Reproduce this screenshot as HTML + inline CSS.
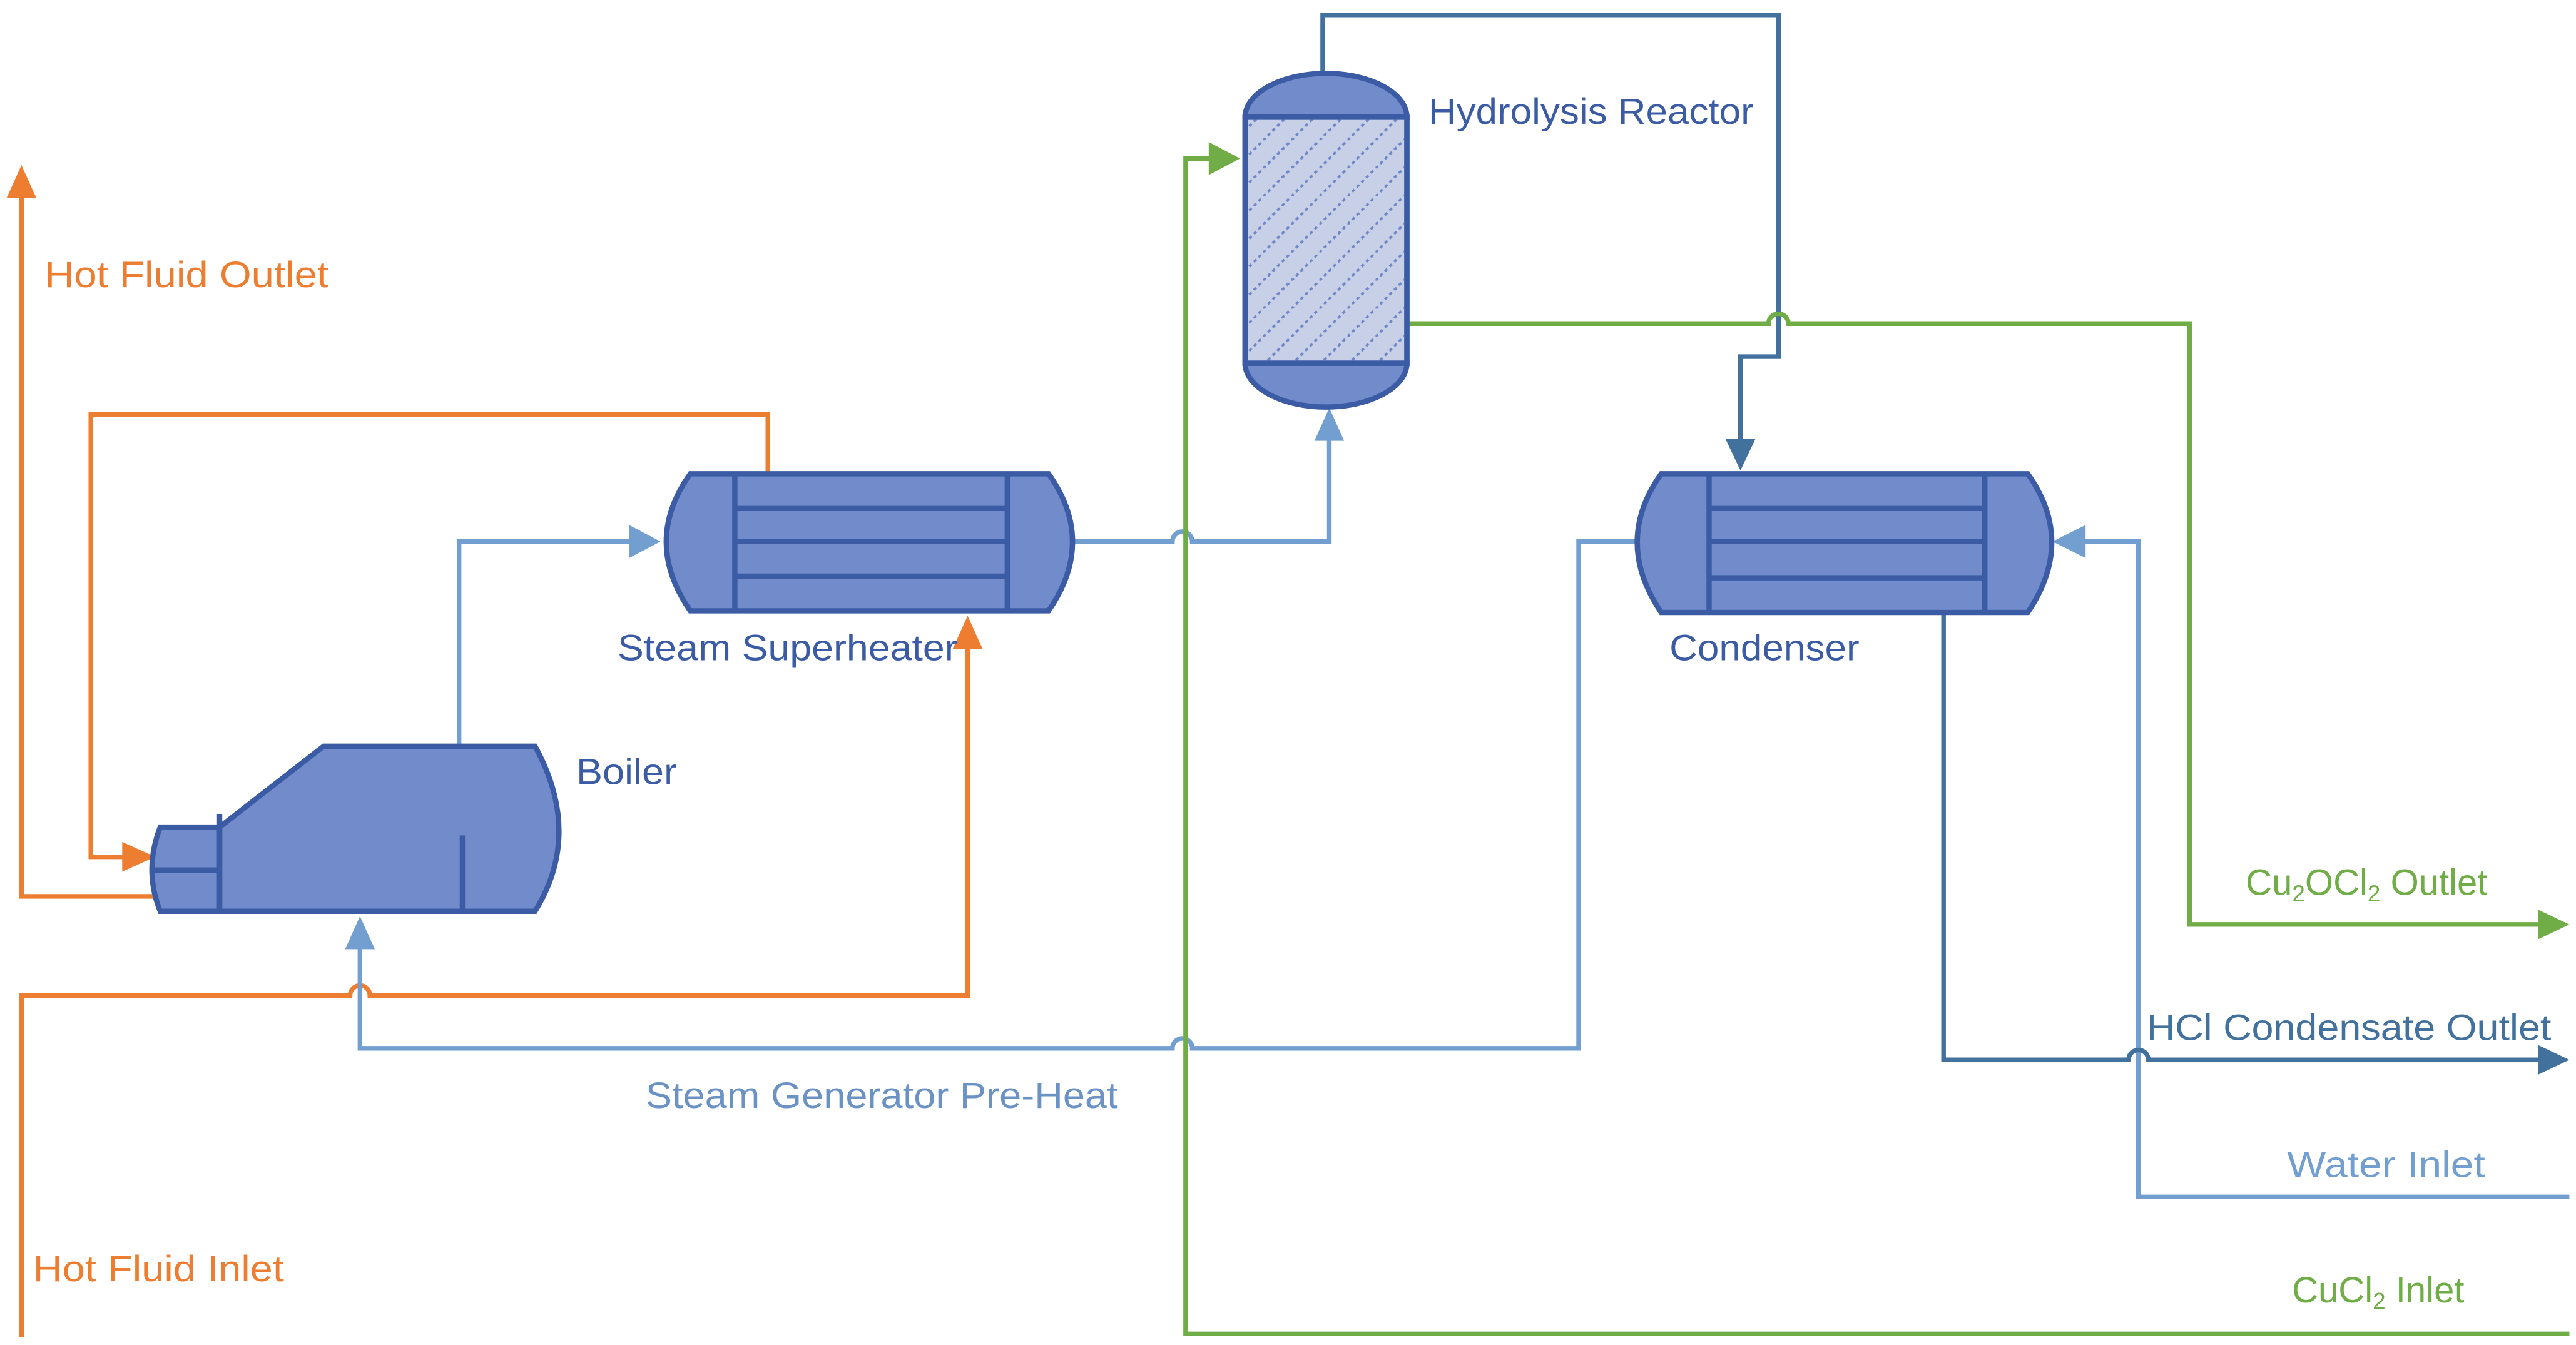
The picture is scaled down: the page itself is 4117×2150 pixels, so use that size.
<!DOCTYPE html>
<html><head><meta charset="utf-8"><style>html,body{margin:0;padding:0;background:#fff}svg{display:block}text{font-family:"Liberation Sans",sans-serif;font-size:22px}</style></head>
<body>
<svg width="4117" height="2150" viewBox="0 0 1560 814.7" preserveAspectRatio="none" xmlns="http://www.w3.org/2000/svg">
<defs>
<pattern id="h" patternUnits="userSpaceOnUse" width="17" height="17">
<line x1="0" y1="17" x2="17" y2="0" stroke="#6f88c8" stroke-width="1.5" stroke-dasharray="2,2"/>
</pattern>
</defs>
<g fill="none" stroke-width="2.8" stroke-linejoin="miter">
<g stroke="#ed7d31">
<path d="M95 543 H13 V118"/>
<path d="M465 289 V251 H55 V519 H78"/>
<path d="M13 810 V603 H212 a6 6 0 0 1 12 0 H586 V392"/>
</g>
<g fill="#ed7d31">
<polygon points="13,100 4,120 22,120"/>
<polygon points="94,519 74,510 74,528"/>
<polygon points="586,373 577,393 595,393"/>
</g>
<g stroke="#729fcf">
<path d="M278 452 V328 H383"/>
<path d="M650 328 H710 a6 6 0 0 1 12 0 H805 V266"/>
<path d="M992 328 H956 V635 H722 a6 6 0 0 0 -12 0 H218 V574"/>
<path d="M1556 725 H1295 V328 H1262"/>
</g>
<g fill="#729fcf">
<polygon points="400,328 381,318 381,338"/>
<polygon points="805,247 796,267 814,267"/>
<polygon points="218,555 209,575 227,575"/>
<polygon points="1243,328 1263,318 1263,338"/>
</g>
<g stroke="#41719c">
<path d="M801 46 V9 H1077 V216 H1054 V268"/>
<path d="M1177 372 V642 H1289 a6 6 0 0 1 12 0 H1538"/>
</g>
<g fill="#41719c">
<polygon points="1054,285 1045,266 1063,266"/>
<polygon points="1556,642 1537,633 1537,651"/>
</g>
<g stroke="#70ad47">
<path d="M850 196 H1071 a6 6 0 0 1 12 0 H1326 V560 H1538"/>
<path d="M1556 808 H718 V96 H733"/>
</g>
<g fill="#70ad47">
<polygon points="751,96 732,86 732,106"/>
<polygon points="1556,560 1537,551 1537,569"/>
</g>
</g>
<g stroke="#3b5ca4" stroke-width="3.2" fill="#718bcb">
<path d="M133 501 H97 Q87 527 97 552 H133 Z"/>
<path d="M133 501 L196 452 H324 Q353 505 324 552 H133 Z"/>
<line x1="91" y1="527" x2="133" y2="527"/>
<line x1="133" y1="493" x2="133" y2="552"/>
<line x1="280" y1="506" x2="280" y2="552"/>
<path d="M418 287 H635 Q664 328 635 370 H418 Q389 328 418 287 Z"/>
<line x1="445" y1="287" x2="445" y2="370"/>
<line x1="610" y1="287" x2="610" y2="370"/>
<line x1="445" y1="308" x2="610" y2="308"/>
<line x1="445" y1="328" x2="610" y2="328"/>
<line x1="445" y1="349" x2="610" y2="349"/>
<path d="M1006 287 H1228 Q1257 328 1228 371 H1006 Q977 328 1006 287 Z"/>
<line x1="1035" y1="287" x2="1035" y2="371"/>
<line x1="1202" y1="287" x2="1202" y2="371"/>
<line x1="1035" y1="308" x2="1202" y2="308"/>
<line x1="1035" y1="328" x2="1202" y2="328"/>
<line x1="1035" y1="350" x2="1202" y2="350"/>
<path d="M754 71 A48 26 0 0 1 852 71 Z"/>
<path d="M754 220 A48 26 0 0 0 852 220 Z"/>
<rect x="754" y="71" width="98" height="149" fill="#c8d0e8"/>
<rect x="755.5" y="72.5" width="95" height="146" fill="url(#h)" stroke="none"/>
<rect x="754" y="71" width="98" height="149" fill="none"/>
</g>
<g>
<text x="27" y="174" fill="#ed7d31" textLength="172" lengthAdjust="spacingAndGlyphs">Hot Fluid Outlet</text>
<text x="20" y="776" fill="#ed7d31" textLength="152" lengthAdjust="spacingAndGlyphs">Hot Fluid Inlet</text>
<text x="374" y="400" fill="#3b5ca4" textLength="206" lengthAdjust="spacingAndGlyphs">Steam Superheater</text>
<text x="349" y="475" fill="#3b5ca4" textLength="61" lengthAdjust="spacingAndGlyphs">Boiler</text>
<text x="865" y="75" fill="#3b5ca4" textLength="197" lengthAdjust="spacingAndGlyphs">Hydrolysis Reactor</text>
<text x="1011" y="400" fill="#3b5ca4" textLength="115" lengthAdjust="spacingAndGlyphs">Condenser</text>
<text x="1360" y="542" fill="#70ad47">Cu<tspan font-size="14" dy="4">2</tspan><tspan dy="-4">OCl</tspan><tspan font-size="14" dy="4">2</tspan><tspan dy="-4"> Outlet</tspan></text>
<text x="1300" y="630" fill="#41719c" textLength="245" lengthAdjust="spacingAndGlyphs">HCl Condensate Outlet</text>
<text x="1385" y="713" fill="#729fcf" textLength="120" lengthAdjust="spacingAndGlyphs">Water Inlet</text>
<text x="1388" y="789" fill="#70ad47">CuCl<tspan font-size="14" dy="4">2</tspan><tspan dy="-4"> Inlet</tspan></text>
<text x="391" y="671" fill="#6a92c4" textLength="286" lengthAdjust="spacingAndGlyphs">Steam Generator Pre-Heat</text>
</g>
</svg>
</body></html>
